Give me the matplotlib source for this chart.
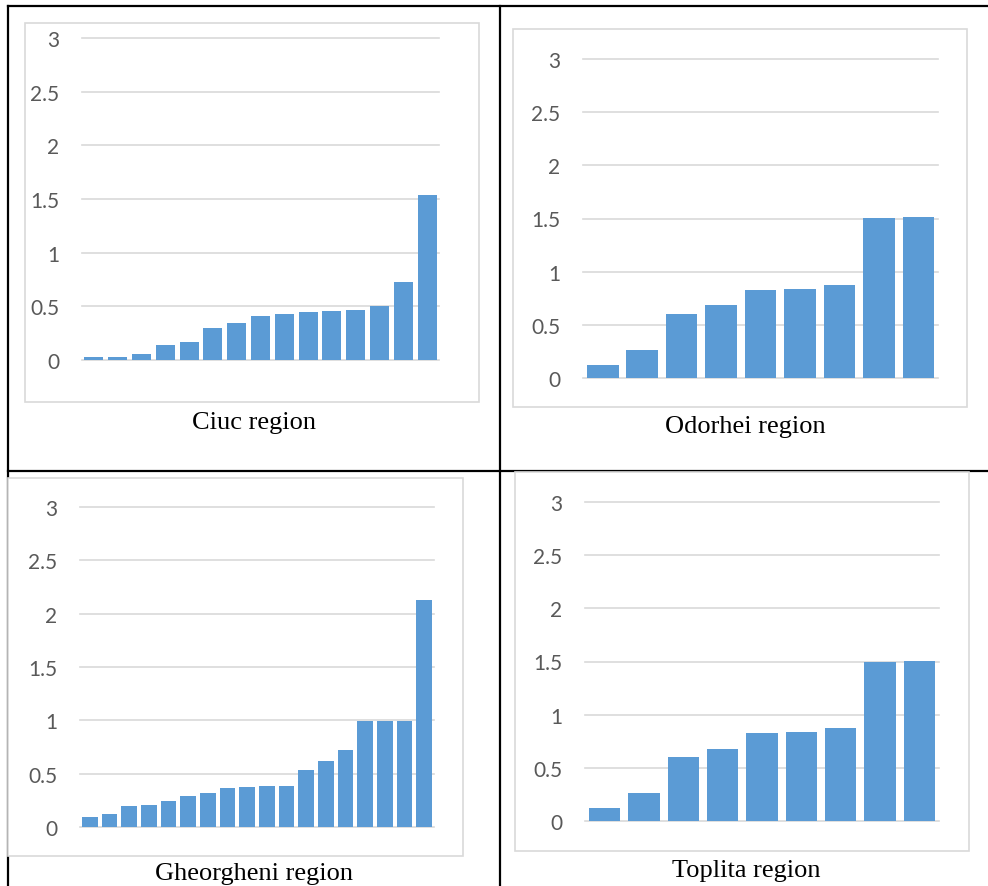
import matplotlib.pyplot as plt
from matplotlib.lines import Line2D
from matplotlib.patches import Rectangle

# values per region, sorted ascending
ciuc = [0.025, 0.025, 0.056, 0.143, 0.168, 0.298, 0.348, 0.407, 0.426,
        0.445, 0.454, 0.466, 0.507, 0.727, 1.539]
odorhei = [0.119, 0.260, 0.599, 0.683, 0.831, 0.840, 0.871, 1.502, 1.511]
gheorgheni = [0.091, 0.119, 0.200, 0.210, 0.247, 0.291, 0.319, 0.370, 0.379,
              0.388, 0.388, 0.532, 0.620, 0.720, 0.993, 0.993, 0.993, 2.130]
toplita = [0.119, 0.260, 0.598, 0.680, 0.830, 0.839, 0.871, 1.497, 1.506]

y_ticks = [0, 0.5, 1, 1.5, 2, 2.5, 3]
y_tick_labels = ["0", "0.5", "1", "1.5", "2", "2.5", "3"]
region_names = ["Ciuc region", "Odorhei region", "Gheorgheni region", "Toplita region"]

W, H = 988, 887
BAR_COLOR = "#5B9BD5"
GRID_COLOR = "#D9D9D9"
TICK_COLOR = "#595959"

# pixel layout: chart frame, plot area (left, right, top=3, bottom=0), caption (x, baseline)
PANELS = [
    dict(frame=(25, 24, 479, 403), plot=(82, 439, 39, 361), caption=(254, 429)),
    dict(frame=(513, 30, 967, 408), plot=(583, 938, 60, 379), caption=(745, 433)),
    dict(frame=(8, 479, 463, 857), plot=(80, 434, 508, 828), caption=(254, 880)),
    dict(frame=(515, 473, 969, 852), plot=(585, 939, 503, 822), caption=(746, 877)),
]


def fx(x):
    return x / W


def fy(y):
    return 1 - y / H


def draw_chart(fig, values, name, spec):
    l, t, r, b = spec["frame"]
    fig.add_artist(Rectangle((fx(l), fy(b)), fx(r - l), (b - t) / H,
                             transform=fig.transFigure, facecolor="white",
                             edgecolor=GRID_COLOR, linewidth=1.2, zorder=2))

    pl, pr, pt, pb = spec["plot"]
    ax = fig.add_axes([fx(pl), fy(pb), fx(pr - pl), (pb - pt) / H])
    ax.set_zorder(3)
    ax.patch.set_alpha(0)
    ax.bar(range(len(values)), values, width=0.8, color=BAR_COLOR, zorder=3)
    ax.set_xlim(-0.5, len(values) - 0.5)
    ax.set_ylim(0, 3)
    ax.set_yticks(y_ticks)
    ax.set_yticklabels(y_tick_labels, fontfamily="Lato", fontsize=15, color=TICK_COLOR)
    ax.set_xticks([])
    ax.tick_params(axis="y", length=0, pad=16.5)
    ax.yaxis.grid(True, color=GRID_COLOR, linewidth=1.2)
    for gl in ax.get_ygridlines():
        gl.set_clip_on(False)
    ax.set_axisbelow(True)
    for spine in ax.spines.values():
        spine.set_visible(False)

    cx, cy = spec["caption"]
    fig.text(fx(cx), fy(cy), name, ha="center", va="baseline",
             fontfamily="Liberation Serif", fontsize=19, color="black", zorder=4)


def main():
    fig = plt.figure(figsize=(W / 100, H / 100), dpi=100)
    fig.patch.set_facecolor("white")

    # table rules around the four charts
    rules = [
        ((8, 988), (7, 7)),
        ((8, 988), (472, 472)),
        ((8, 8), (7, 887)),
        ((500, 500), (7, 887)),
    ]
    for xs, ys in rules:
        fig.add_artist(Line2D([fx(x) for x in xs], [fy(y) for y in ys],
                              transform=fig.transFigure, color="black",
                              linewidth=1.6, zorder=1))

    for values, name, spec in zip([ciuc, odorhei, gheorgheni, toplita], region_names, PANELS):
        draw_chart(fig, values, name, spec)

    fig.savefig("out.png", dpi=100, facecolor="white")
    plt.close(fig)


if __name__ == "__main__":
    main()
